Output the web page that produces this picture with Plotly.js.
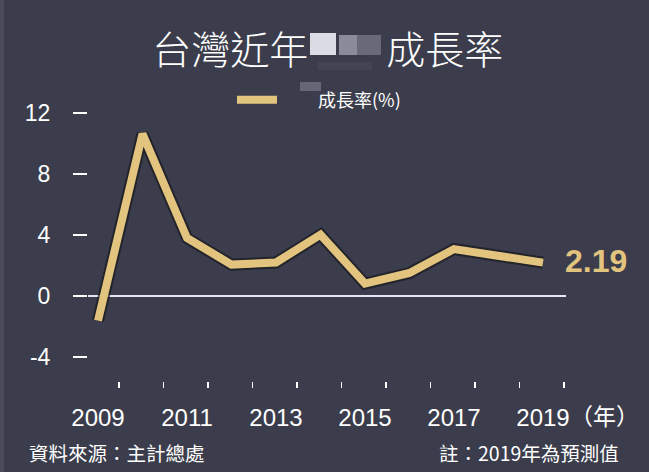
<!DOCTYPE html>
<html>
<head>
<meta charset="utf-8">
<script src="https://cdn.plot.ly/plotly-3.0.1.min.js"></script>
<style>
  html, body { margin: 0; padding: 0; background: #3b3d4c; }
  #chart { width: 649px; height: 472px; }
</style>
</head>
<body>
<div id="chart"></div>
<script>
// 台灣近年成長率 (%), 2019 為預測值
var years = [2009, 2010, 2011, 2012, 2013, 2014, 2015, 2016, 2017, 2018, 2019];
var growth = [-1.61, 10.63, 3.80, 2.06, 2.20, 4.02, 0.81, 1.51, 3.08, 2.63, 2.19];
var yTicks = [-4, 0, 4, 8, 12];
var yTickText = ['-4', '0', '4', '8', '12'];
var xLabelYears = [2009, 2011, 2013, 2015, 2017, 2019];

var cjk = '"Noto Sans CJK TC", "Noto Sans CJK SC", sans-serif';
var num = '"Liberation Sans", Arial, sans-serif';
var gold = '#e3c47f';

// plot area in pixels: left 88, right 566, top 100, bottom 381
var L = 88, R = 566, T = 100, B = 381;
function px(x) { return (x - L) / (R - L); }
function py(y) { return (B - y) / (B - T); }

var shadow = {
  x: years, y: growth,
  type: 'scatter', mode: 'lines',
  line: { color: 'rgba(25,25,30,0.7)', width: 12 },
  showlegend: false, hoverinfo: 'skip'
};

var line = {
  x: years, y: growth,
  type: 'scatter', mode: 'lines',
  name: '　　成長率(%)',
  line: { color: gold, width: 8, shape: 'linear' }
};

var layout = {
  width: 649, height: 472,
  paper_bgcolor: '#3b3d4c',
  plot_bgcolor: '#3b3d4c',
  margin: { l: L, r: 649 - R, t: T, b: 472 - B, pad: 0 },
  title: {
    text: '台灣近年　　成長率',
    font: { family: cjk, size: 39, color: '#ffffff', weight: 300 },
    x: 0.505, xanchor: 'center',
    y: 1 - 50 / 472, yanchor: 'middle'
  },
  showlegend: true,
  legend: {
    orientation: 'h',
    x: px(232), xanchor: 'left',
    y: py(100), yanchor: 'middle',
    itemwidth: 40,
    bgcolor: 'rgba(0,0,0,0)',
    font: { family: cjk, size: 18, color: '#ffffff' }
  },
  xaxis: {
    range: [2008.775, 2019.517],
    showgrid: false, zeroline: false, showline: false,
    tickmode: 'array', tickvals: xLabelYears,
    ticks: '',
    ticklabelstandoff: 20,
    tickfont: { family: num, size: 24, color: '#ffffff' },
    minor: {
      tick0: 2009.472, dtick: 1,
      ticks: 'outside', ticklen: 6, tickwidth: 1.5, tickcolor: '#ffffff',
      showgrid: false
    },
    fixedrange: true
  },
  yaxis: {
    range: [-5.57, 12.85],
    tickmode: 'array', tickvals: yTicks, ticktext: yTickText,
    ticks: 'outside', ticklen: 14, tickwidth: 1.5, tickcolor: '#ffffff',
    ticklabelstandoff: 18,
    tickfont: { family: num, size: 23, color: '#ffffff' },
    showgrid: false, showline: false,
    zeroline: true, zerolinecolor: '#e6e6f2', zerolinewidth: 1.5,
    fixedrange: true
  },
  annotations: [
    {
      x: years[years.length - 1], y: growth[growth.length - 1],
      xref: 'x', yref: 'y',
      text: growth[growth.length - 1].toFixed(2),
      showarrow: false, xanchor: 'left', yanchor: 'middle',
      xshift: 20, yshift: 2,
      font: { family: num, size: 32, color: gold, weight: 'bold' }
    },
    {
      x: px(604), y: py(415), xref: 'paper', yref: 'paper',
      text: '（年）', showarrow: false, xanchor: 'center', yanchor: 'middle',
      font: { family: cjk, size: 23, color: '#ffffff' }
    },
    {
      x: px(27), y: py(452), xref: 'paper', yref: 'paper',
      text: '資料來源：主計總處', showarrow: false, xanchor: 'left', yanchor: 'middle',
      font: { family: cjk, size: 19.5, color: '#ffffff' }
    },
    {
      x: px(621), y: py(452), xref: 'paper', yref: 'paper',
      text: '註：2019年為預測值', showarrow: false, xanchor: 'right', yanchor: 'middle',
      font: { family: cjk, size: 19.5, color: '#ffffff' }
    }
  ],
  shapes: [
    // left edge strip of the card
    { type: 'rect', xref: 'paper', yref: 'paper', x0: px(0), x1: px(4), y0: py(472), y1: py(0),
      fillcolor: '#4a4c5a', line: { width: 0 }, layer: 'below' },
    // blurred words in the title and legend
    { type: 'rect', xref: 'paper', yref: 'paper', x0: px(310), x1: px(336), y0: py(55), y1: py(33),
      fillcolor: 'rgba(232,232,240,0.92)', line: { width: 0 } },
    { type: 'rect', xref: 'paper', yref: 'paper', x0: px(339), x1: px(357), y0: py(55), y1: py(35),
      fillcolor: 'rgba(160,160,172,0.8)', line: { width: 0 } },
    { type: 'rect', xref: 'paper', yref: 'paper', x0: px(357), x1: px(381), y0: py(55), y1: py(35),
      fillcolor: 'rgba(125,125,138,0.7)', line: { width: 0 } },
    { type: 'rect', xref: 'paper', yref: 'paper', x0: px(318), x1: px(372), y0: py(70), y1: py(62),
      fillcolor: 'rgba(80,82,96,0.4)', line: { width: 0 } },
    { type: 'rect', xref: 'paper', yref: 'paper', x0: px(300), x1: px(321), y0: py(91), y1: py(82),
      fillcolor: 'rgba(130,132,146,0.6)', line: { width: 0 } }
  ]
};

var config = { responsive: false, displayModeBar: false, staticPlot: true };

Plotly.newPlot('chart', [shadow, line], layout, config);
</script>
</body>
</html>
